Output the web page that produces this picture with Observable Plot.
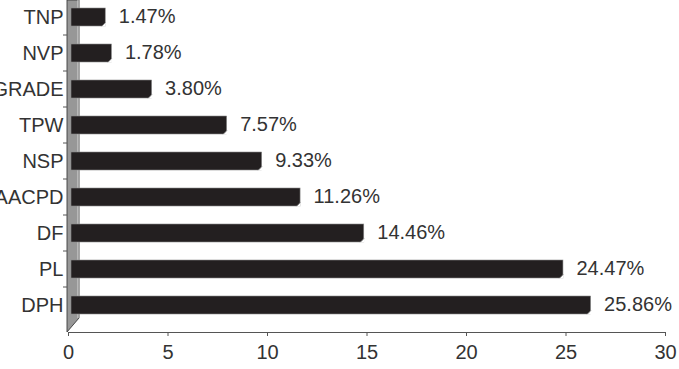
<!DOCTYPE html>
<html>
<head>
<meta charset="utf-8">
<script src="https://cdn.jsdelivr.net/npm/d3@7"></script>
<script src="https://cdn.jsdelivr.net/npm/@observablehq/plot@0.6"></script>
<style>
  html, body { margin: 0; padding: 0; background: #fff; }
</style>
</head>
<body>
<div id="chart"></div>
<script>
const categories = ["TNP", "NVP", "GRADE", "TPW", "NSP", "AACPD", "DF", "PL", "DPH"];
const values = [1.47, 1.78, 3.80, 7.57, 9.33, 11.26, 14.46, 24.47, 25.86];
const valueLabels = ["1.47%", "1.78%", "3.80%", "7.57%", "9.33%", "11.26%", "14.46%", "24.47%", "25.86%"];
const xTicks = [0, 5, 10, 15, 20, 25, 30];

const rows = categories.map((c, i) => ({cat: c, value: values[i], label: valueLabels[i]}));

const textColor = "#333";
const font = "'Liberation Sans', Arial, sans-serif";
const barShift = 8;

// 3D side wall behind the bars, positioned via the scales
function wall(index, scales, vals, dims) {
  const x0 = scales.x(0);
  const bottom = dims.height - dims.marginBottom;
  const g = d3.create("svg:g");
  const depth = 12, rise = 14;
  g.append("polygon")
    .attr("points", [[x0 - 1, 0], [x0 - 1 + depth, 0], [x0 - 1 + depth, bottom - rise], [x0 - 1, bottom]].map(p => p.join(",")).join(" "))
    .attr("fill", "#979797")
    .attr("stroke", "#3a3a3a")
    .attr("stroke-width", 0.9);
  g.append("line")
    .attr("x1", x0 - 2 + depth).attr("x2", x0 - 2 + depth)
    .attr("y1", 0).attr("y2", bottom - rise)
    .attr("stroke", "#d8d8d8").attr("stroke-width", 1);
  const bw = scales.y.bandwidth();
  const step = scales.y.step();
  const gap = (step - bw) / 2;
  categories.forEach(c => {
    const b = scales.y(c) - gap;
    g.append("line")
      .attr("x1", x0 - 5).attr("x2", x0 - 1)
      .attr("y1", b).attr("y2", b)
      .attr("stroke", "#555").attr("stroke-width", 1);
  });
  return g.node();
}

// small bevel at the lower right corner of each bar (3D look)
function bevel(index, scales, vals, dims) {
  const g = d3.create("svg:g");
  const bw = scales.y.bandwidth();
  rows.forEach(r => {
    const xe = scales.x(r.value) + barShift + 0.5;
    const yb = scales.y(r.cat) + bw + 0.5;
    g.append("polygon")
      .attr("points", [[xe, yb], [xe - 4, yb], [xe, yb - 4]].map(p => p.join(",")).join(" "))
      .attr("fill", "#fff");
    g.append("line")
      .attr("x1", xe - 4).attr("y1", yb - 0.3).attr("x2", xe).attr("y2", yb - 4.3)
      .attr("stroke", "#8a8a8a").attr("stroke-width", 0.7);
  });
  return g.node();
}

const chart = Plot.plot({
  width: 679,
  height: 369,
  marginLeft: 68,
  marginRight: 14,
  marginTop: 0,
  marginBottom: 37,
  style: {fontFamily: font, fontSize: "20px", background: "#fff", overflow: "visible"},
  x: {domain: [0, 30]},
  y: {domain: categories, range: [-2, 325], paddingInner: 0.49, paddingOuter: 0.245, align: 0.5},
  marks: [
    wall,
    Plot.barX(rows, {y: "cat", x1: 0, x2: "value", fill: "#231f20", stroke: "#8a8a8a", strokeWidth: 0.6, dx: barShift, insetLeft: -5}),
    bevel,
    Plot.text(rows, {y: "cat", x: "value", text: "label", dx: 21, dy: -1, textAnchor: "start", fontSize: 20, fill: textColor, fontFamily: font}),
    Plot.frame({anchor: "bottom", stroke: "#555"}),
    Plot.axisX({ticks: xTicks, tickSize: 4, tickPadding: 8, fontSize: 20, fill: textColor, stroke: "#555", label: null, tickFormat: d => String(d)}),
    Plot.axisY({tickSize: 0, tickPadding: 5, fontSize: 20, fill: textColor, label: null})
  ]
});

document.getElementById("chart").appendChild(chart);
</script>
</body>
</html>
